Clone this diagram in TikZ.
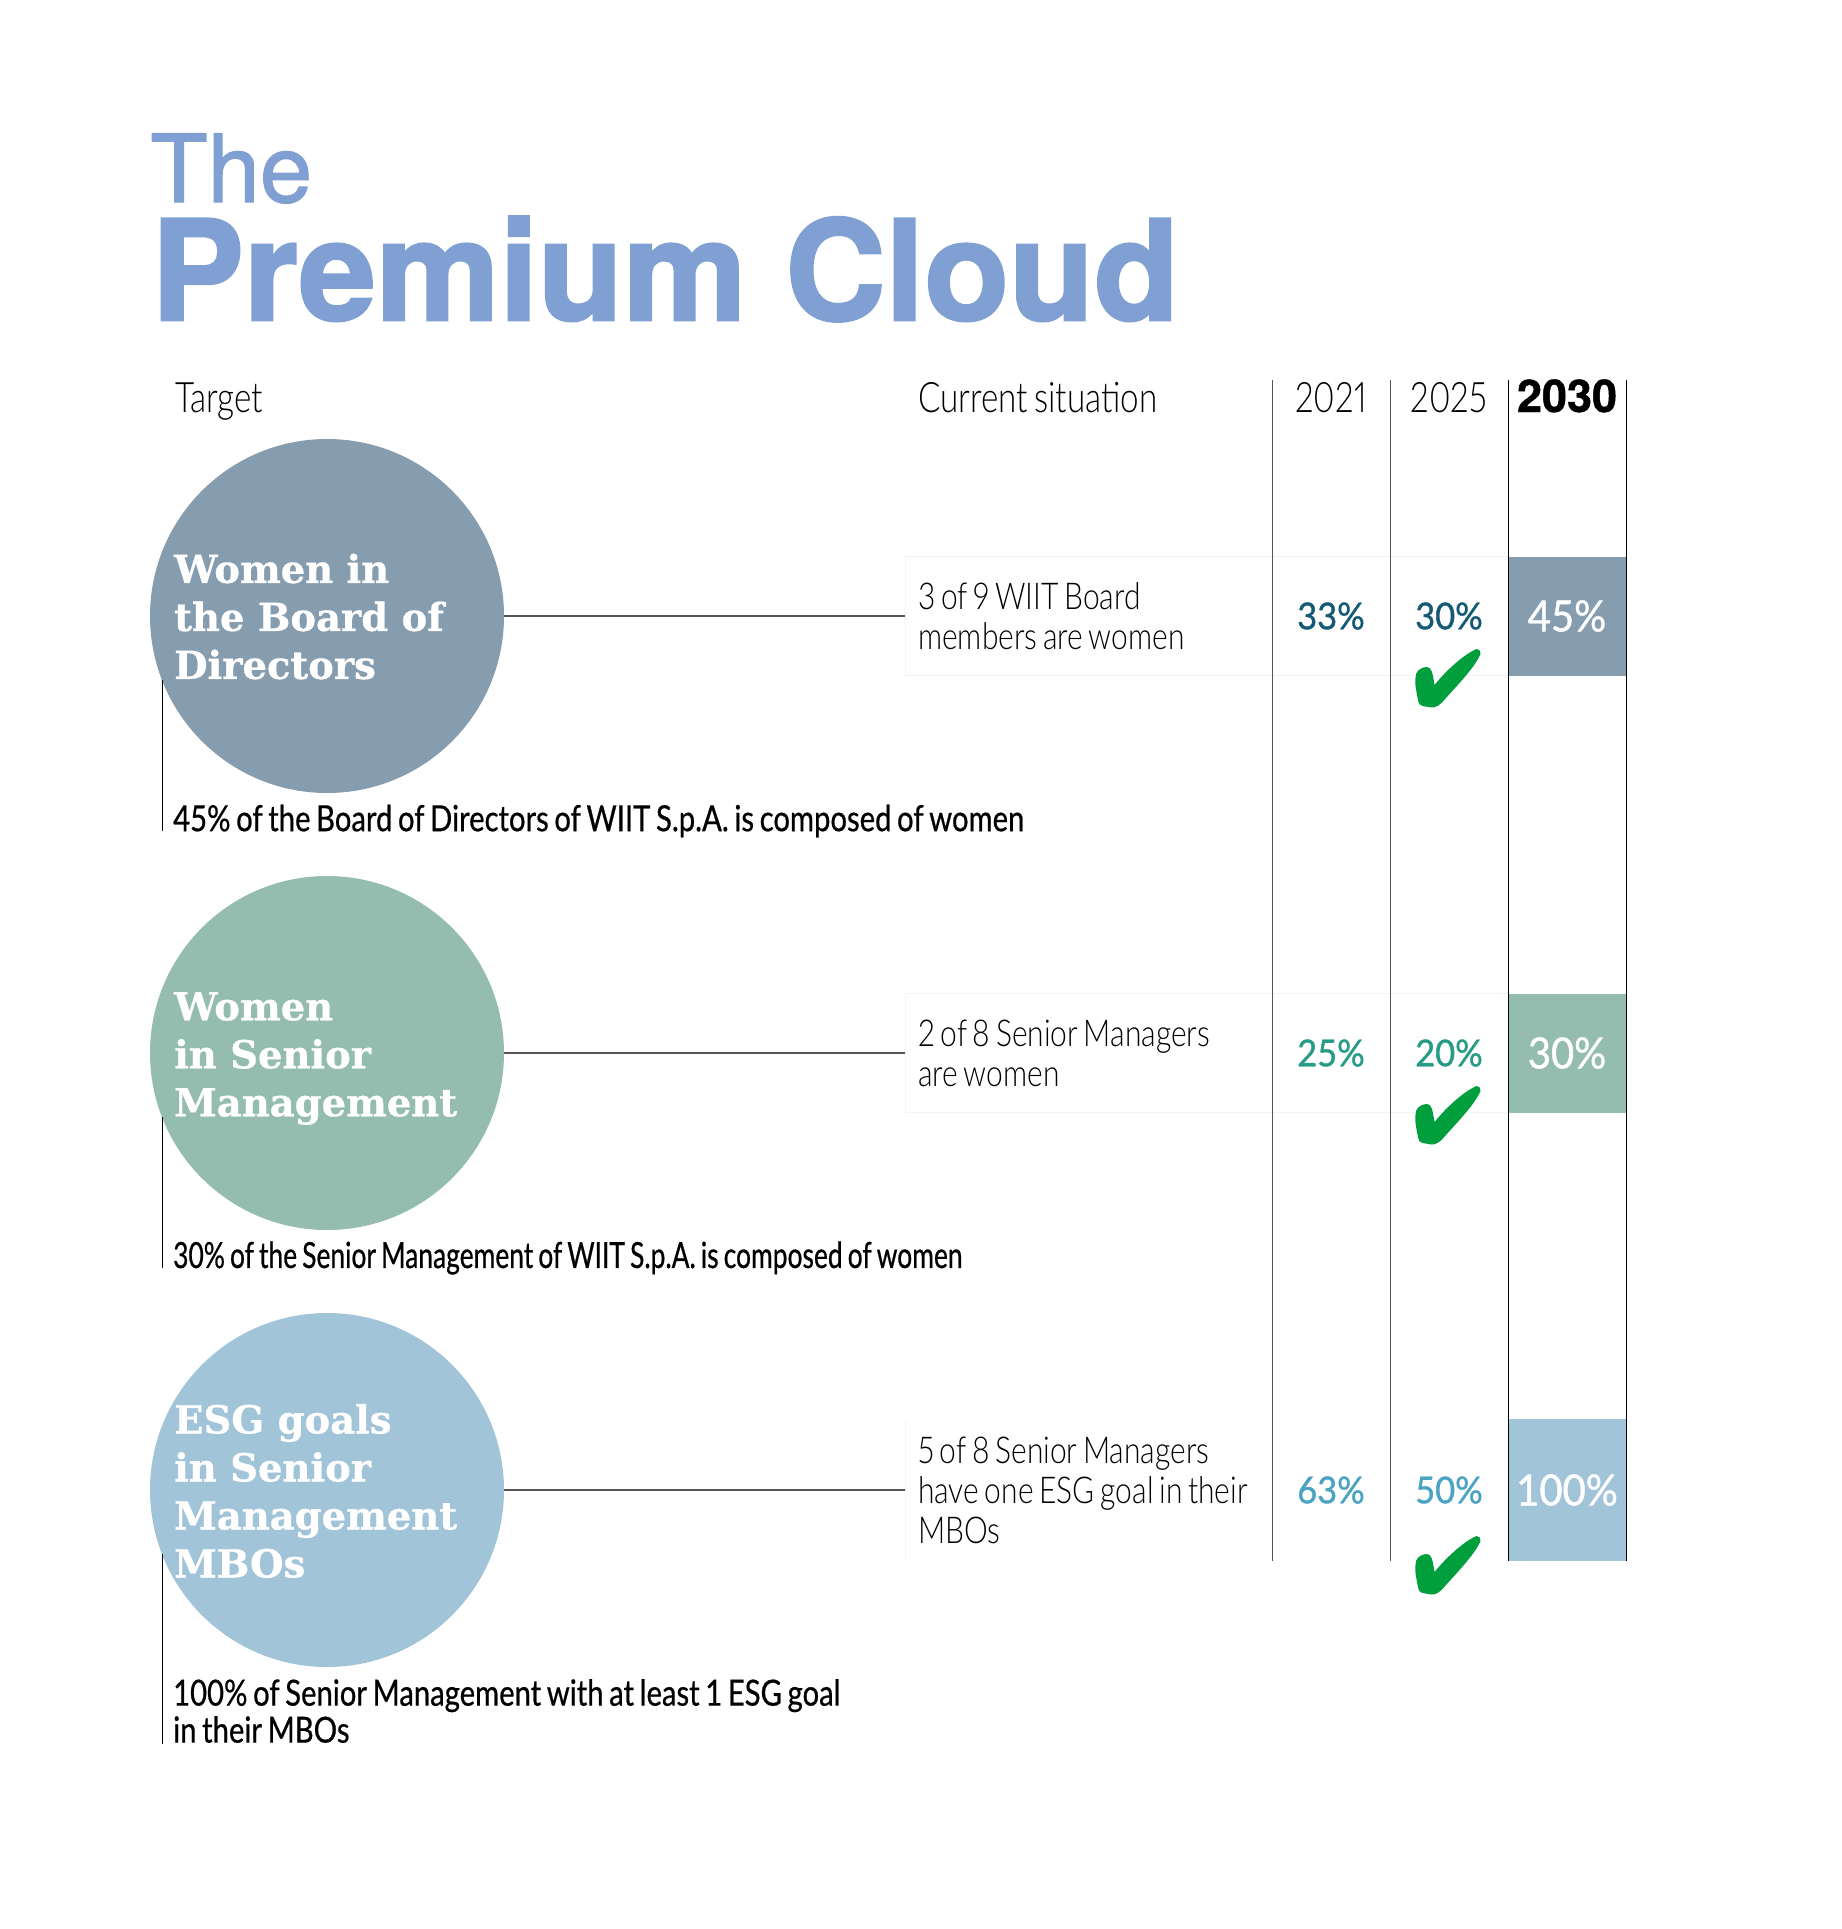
\documentclass[tikz,border=0pt]{standalone}
\usepackage{fontspec}
\usetikzlibrary{positioning}
\setmainfont{Lato}
\newfontfamily\thinfont[FakeStretch=0.79,WordSpace=0.7,Numbers=Proportional]{Lato Light}
\newfontfamily\bodyfont[FakeStretch=0.81,WordSpace=0.7,Numbers=Proportional]{Lato Light}
\newfontfamily\midfont[FakeStretch=0.812,WordSpace=0.75,FakeBold=0.6]{Lato}
\newfontfamily\tightfont[FakeStretch=0.733,WordSpace=0.75,FakeBold=0.6]{Lato}
\newfontfamily\numfont[FakeStretch=0.93,FakeBold=1.0]{Lato}
\newfontfamily\slabfont[FakeBold=0.8]{DejaVu Serif Bold}
\newfontfamily\titlefont[FakeBold=1.4]{TeX Gyre Heros}
\newfontfamily\bigfont[FakeBold=1.8]{TeX Gyre Heros Bold}
\newfontfamily\yearfont[FakeBold=1.0]{TeX Gyre Heros Bold}
\definecolor{TitleBlue}{HTML}{80A0D3}
\definecolor{BoardFill}{HTML}{869DB0}
\definecolor{SeniorFill}{HTML}{94BCAF}
\definecolor{GoalFill}{HTML}{A2C4D9}
\definecolor{BoardText}{HTML}{155A75}
\definecolor{SeniorText}{HTML}{269B85}
\definecolor{GoalText}{HTML}{4BA3C3}
\definecolor{CheckGreen}{HTML}{009E3D}
\definecolor{RuleGray}{HTML}{555555}
\definecolor{BoxGray}{HTML}{F4F4F4}
\tikzset{
  headcircle/.style={circle,minimum size=354pt,inner sep=0pt},
  headtext/.style={anchor=west,inner sep=0pt,align=left,text=white,
    font=\slabfont\fontsize{38.5}{48}\selectfont},
  sitbox/.style={rectangle,anchor=west,minimum width=603pt,inner xsep=13pt,inner ysep=0pt,
    text width=577pt,align=flush left,font=\bodyfont\fontsize{37}{40}\selectfont},
  goaltext/.style={anchor=west,inner sep=0pt,align=left,
    font=\midfont\fontsize{36}{37}\selectfont},
  toplabel/.style={anchor=base west,inner sep=0pt,font=\thinfont\fontsize{42}{42}\selectfont},
  yearlabel/.style={anchor=base,inner sep=0pt,font=\thinfont\fontsize{42}{42}\selectfont},
  pcttext/.style={inner sep=0pt,font=\numfont\fontsize{37}{37}\selectfont},
  endcell/.style={rectangle,minimum width=118pt,inner sep=0pt,text=white,font=\numfont\fontsize{43}{43}\selectfont},
  colrule/.style={RuleGray,line width=1pt},
  leadrule/.style={black,line width=1pt},
  linkrule/.style={RuleGray,line width=1.1pt},
  checkmark/.pic={
    \fill[CheckGreen] (62,1) .. controls (65,1) and (66,3) .. (66,6)
      .. controls (60,20) and (42,38) .. (27,55)
      .. controls (22,60) and (17,60) .. (14,59)
      .. controls (8,58) and (5,58) .. (4,54)
      .. controls (2,45) and (0,35) .. (1,30)
      .. controls (1,24) and (4,20) .. (12,19)
      .. controls (17,19) and (18,24) .. (20,37)
      .. controls (32,22) and (50,6) .. (62,1) -- cycle;
  }
}
\begin{document}
\begin{tikzpicture}[x=1pt,y=-1pt]
  \useasboundingbox (0,0) rectangle (1841,1929);

  \node[anchor=base west,inner sep=0pt,text=TitleBlue,font=\titlefont\fontsize{94}{94}\selectfont] (Small) at (150,202) {The};
  \node[anchor=base west,inner sep=0pt,text=TitleBlue,font=\bigfont\fontsize{139}{139}\selectfont] (Big) at (151,320) {Premium Cloud};

  \node[toplabel] (Target) at (175,412) {Target};
  \node[toplabel] (Current) at (918,412) {Current situation};
  \node[yearlabel] (YearOne) at (1331,412) {2021};
  \node[yearlabel] (YearTwo) at (1449,412) {2025};
  \node[anchor=base,inner sep=0pt,font=\yearfont\fontsize{45}{45}\selectfont] (YearThree) at (1567,412) {2030};

  \foreach \rowid/\rowy/\rowh/\rowfill/\rowedge/\rowtext/\rowhead/\rowheady/\rowsit/\rowcur/\rowmid/\rowend/\rowgoal/\rowgoaly/\rowfoot/\rowcheck in {
    A/616/119/BoardFill/BoxGray/BoardText/{Women in\\the Board of\\Directors}/616.5/{3 of 9 WIIT Board\\members are women}/33\%/30\%/45\%/{45\% of the Board of Directors of WIIT S.p.A. is composed of women}/821/831/648,
    B/1053/119/SeniorFill/BoxGray/SeniorText/{Women\\in Senior\\Management}/1058.5/{2 of 8 Senior Managers\\are women}/25\%/20\%/30\%/{\tightfont 30\% of the Senior Management of WIIT S.p.A. is composed of women}/1258/1268/1085,
    C/1490/142/GoalFill/none/GoalText/{ESG goals\\in Senior\\Management\\MBOs}/1491/{5 of 8 Senior Managers\\have one ESG goal in their\\MBOs}/63\%/50\%/100\%/{100\% of Senior Management with at least 1 ESG goal\\in their MBOs}/1711/1744/1535}{%
    \node[sitbox,minimum height=\rowh pt,draw=\rowedge] (Box\rowid) at (905,\rowy) {\rowsit};
    \draw[BoxGray] (Box\rowid.north west) -- (Box\rowid.south west);
    \node[endcell,minimum height=\rowh pt,fill=\rowfill] (End\rowid) at (1567,\rowy) {\rowend};
    \node[headcircle,fill=\rowfill] (Circle\rowid) at (327,\rowy) {};
    \node[headtext] (Head\rowid) at (174,\rowheady) {\rowhead};
    \node[goaltext] (Goal\rowid) at (173,\rowgoaly) {\rowgoal};
    \node[pcttext,text=\rowtext] (Cur\rowid) at (1331,\rowy) {\rowcur};
    \node[pcttext,text=\rowtext] (Mid\rowid) at (1449,\rowy) {\rowmid};
    \draw[linkrule] (Circle\rowid.east) -- (Box\rowid.west);
    \coordinate (Lead\rowid) at (162,\rowy+64);
    \coordinate (Foot\rowid) at (162,\rowfoot);
    \draw[leadrule] (Lead\rowid) -- (Foot\rowid);
    \pic at (1414.5,\rowcheck) {checkmark};
  }

  \foreach \x in {1272,1390}{%
    \draw[colrule] (\x,380) -- (\x,1561);
  }
  \foreach \x in {1508,1626}{%
    \draw[leadrule] (\x,380) -- (\x,1561);
  }
\end{tikzpicture}
\end{document}
